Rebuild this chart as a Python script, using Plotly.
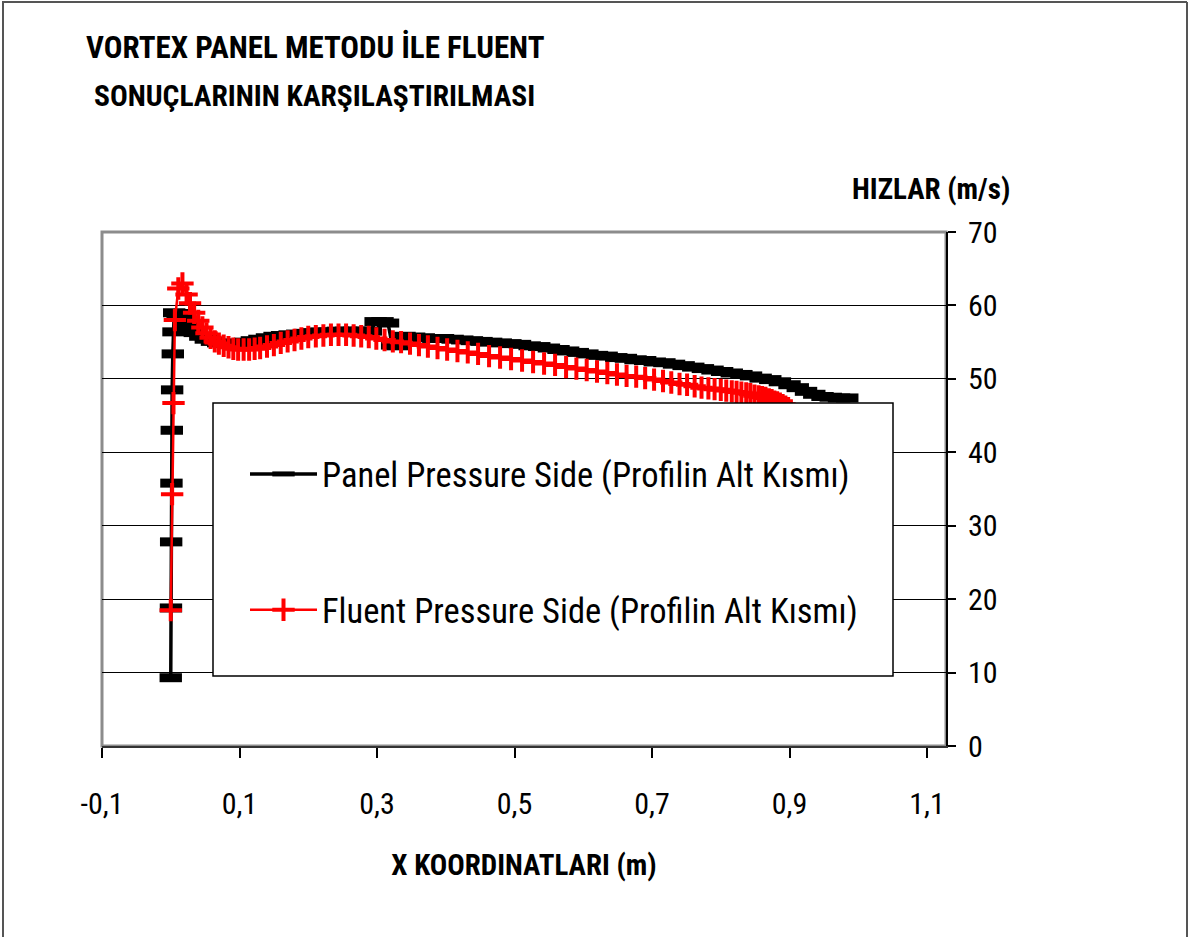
import plotly.graph_objects as go

# ---------------- data ----------------
panel_x = [0.000, 0.0003, 0.0006, 0.001, 0.0015, 0.002, 0.003, 0.004, 0.005,
           0.010, 0.016, 0.022, 0.028, 0.035, 0.043, 0.051, 0.060, 0.069, 0.078,
           0.088, 0.098, 0.108, 0.118, 0.129, 0.140, 0.151, 0.162, 0.173, 0.184,
           0.195, 0.207, 0.219, 0.231, 0.243, 0.255, 0.267, 0.279, 0.291, 0.298,
           0.308, 0.316, 0.322, 0.330, 0.340, 0.354, 0.368, 0.382, 0.396, 0.410,
           0.424, 0.438, 0.452, 0.466, 0.480, 0.494, 0.508, 0.522, 0.536, 0.550,
           0.564, 0.578, 0.592, 0.606, 0.620, 0.634, 0.648, 0.662, 0.676, 0.690,
           0.704, 0.718, 0.732, 0.746, 0.760, 0.774, 0.788, 0.802, 0.816, 0.830,
           0.844, 0.858, 0.872, 0.886, 0.900, 0.912, 0.924, 0.936, 0.948, 0.960,
           0.972, 0.984]
panel_v = [9.3, 18.8, 27.8, 35.8, 43.0, 48.5, 53.4, 56.4, 59.0,
           58.9, 58.5, 57.4, 56.9, 56.3, 55.8, 55.4, 55.1, 54.9, 54.8,
           54.8, 54.9, 55.0, 55.2, 55.4, 55.6, 55.8, 55.9, 56.0, 56.1,
           56.2, 56.3, 56.4, 56.4, 56.5, 56.5, 56.5, 56.5, 56.5, 57.8,
           57.8, 57.6, 54.6, 54.5, 55.8, 55.7, 55.6, 55.5, 55.5, 55.4,
           55.3, 55.2, 55.1, 55.0, 54.9, 54.8, 54.7, 54.5, 54.4, 54.2,
           54.0, 53.8, 53.6, 53.4, 53.2, 53.1, 52.9, 52.8, 52.6, 52.5,
           52.3, 52.2, 52.0, 51.8, 51.6, 51.4, 51.2, 51.0, 50.8, 50.6,
           50.4, 50.1, 49.9, 49.6, 49.2, 48.8, 48.3, 47.9, 47.6, 47.5,
           47.4, 47.4]

fluent_x = [0.000, 0.002, 0.004, 0.006, 0.011, 0.017, 0.023, 0.028, 0.034, 0.040,
            0.046, 0.052, 0.058, 0.064, 0.070, 0.077, 0.084, 0.091, 0.098, 0.106,
            0.114, 0.122, 0.130, 0.140, 0.150, 0.160, 0.170, 0.180, 0.190, 0.200,
            0.211, 0.222, 0.233, 0.244, 0.255, 0.266, 0.277, 0.288, 0.299, 0.311,
            0.323, 0.335, 0.348, 0.361, 0.374, 0.388, 0.402, 0.417, 0.432, 0.447,
            0.463, 0.479, 0.495, 0.511, 0.527, 0.543, 0.559, 0.575, 0.590, 0.605,
            0.620, 0.635, 0.649, 0.663, 0.677, 0.690, 0.703, 0.716, 0.728, 0.740,
            0.751, 0.762, 0.772, 0.782, 0.791, 0.800, 0.808, 0.816, 0.823, 0.830,
            0.837, 0.843, 0.849, 0.855, 0.860, 0.865, 0.870, 0.874, 0.878, 0.882,
            0.886, 0.890, 0.894, 0.898, 0.902, 0.906, 0.910]
fluent_v = [18.5, 34.3, 46.7, 58.0, 62.3, 63.0, 61.5, 60.3, 59.0, 57.9,
            57.0, 56.2, 55.6, 55.1, 54.8, 54.5, 54.3, 54.1, 54.0, 54.0,
            54.0, 54.1, 54.2, 54.4, 54.6, 54.9, 55.1, 55.3, 55.5, 55.7,
            55.8, 55.9, 56.0, 56.0, 56.0, 55.9, 55.8, 55.7, 55.5, 55.3,
            55.1, 55.0, 54.8, 54.6, 54.4, 54.2, 54.0, 53.8, 53.6, 53.4,
            53.1, 52.9, 52.7, 52.5, 52.3, 52.1, 51.9, 51.6, 51.4, 51.2,
            51.0, 50.8, 50.6, 50.4, 50.3, 50.1, 49.9, 49.7, 49.5, 49.3,
            49.2, 49.0, 48.8, 48.7, 48.6, 48.5, 48.4, 48.3, 48.2, 48.1,
            48.0, 47.9, 47.7, 47.6, 47.5, 47.4, 47.2, 47.1, 46.9, 46.8,
            46.6, 46.4, 46.2, 46.0, 45.7, 45.3, 44.8]

x_ticks = [-0.1, 0.1, 0.3, 0.5, 0.7, 0.9, 1.1]
x_tick_text = ["-0,1", "0,1", "0,3", "0,5", "0,7", "0,9", "1,1"]
y_ticks = [0, 10, 20, 30, 40, 50, 60, 70]

series_names = ["Panel Pressure Side (Profilin Alt Kısmı)",
                "Fluent Pressure Side (Profilin Alt Kısmı)"]

NARROW = "Liberation Sans Narrow, Arial Narrow, Roboto Condensed, Liberation Sans, Arial, sans-serif"

# ---------------- layout geometry (pixels) ----------------
W, H = 1189, 937
L, R, T, B = 102, 946, 232, 746


def px(xp):
    return (xp - L) / (R - L)


def py(yp):
    return (B - yp) / (B - T)


fig = go.Figure()
fig.add_trace(go.Scatter(
    x=panel_x, y=panel_v, mode="lines+markers", name=series_names[0],
    legendgroup="a",
    line=dict(color="black", width=3.5),
    marker=dict(symbol="line-ew", size=16, color="black",
                line=dict(color="black", width=9)),
))
fig.add_trace(go.Scatter(
    x=fluent_x, y=fluent_v, mode="lines+markers", name=series_names[1],
    legendgroup="b",
    line=dict(color="#ff0000", width=2.5),
    marker=dict(symbol="cross-thin", size=16, color="#ff0000",
                line=dict(color="#ff0000", width=4)),
))

shapes = [
    # plot frame
    dict(type="rect", xref="paper", yref="paper", x0=0, x1=1, y0=0, y1=1,
         line=dict(color="#8c8c8c", width=3), layer="below"),
    # legend box
    dict(type="rect", xref="paper", yref="paper",
         x0=px(213), x1=px(893), y0=py(676), y1=py(403),
         line=dict(color="black", width=1.5), fillcolor="white", layer="above"),
    # outer border
    dict(type="line", xref="paper", yref="paper", x0=px(2), x1=px(1187),
         y0=py(2), y1=py(2), line=dict(color="#555555", width=2)),
    dict(type="line", xref="paper", yref="paper", x0=px(3), x1=px(3),
         y0=py(2), y1=py(937), line=dict(color="#555555", width=2)),
    dict(type="line", xref="paper", yref="paper", x0=px(1187), x1=px(1187),
         y0=py(2), y1=py(937), line=dict(color="#555555", width=2)),
]

annotations = [
    dict(text="<b>VORTEX PANEL METODU İLE FLUENT</b>", xref="paper", yref="paper",
         x=px(315), y=py(48), xanchor="center", yanchor="middle", showarrow=False,
         font=dict(family=NARROW, size=31, color="black")),
    dict(text="<b>SONUÇLARININ KARŞILAŞTIRILMASI</b>", xref="paper", yref="paper",
         x=px(314), y=py(96), xanchor="center", yanchor="middle", showarrow=False,
         font=dict(family=NARROW, size=29.5, color="black")),
    dict(text="<b>HIZLAR (m/s)</b>", xref="paper", yref="paper",
         x=px(931), y=py(189), xanchor="center", yanchor="middle", showarrow=False,
         font=dict(family=NARROW, size=29, color="black")),
]

fig.update_layout(
    width=W, height=H,
    margin=dict(l=L, r=W - R, t=T, b=H - B, pad=0),
    paper_bgcolor="white", plot_bgcolor="white",
    showlegend=True,
    legend=dict(x=px(245), y=py(445), xanchor="left", yanchor="top",
                bgcolor="rgba(0,0,0,0)", borderwidth=0,
                font=dict(family=NARROW, size=34.5, color="black"),
                tracegroupgap=88, itemwidth=67, traceorder="grouped"),
    shapes=shapes,
    annotations=annotations,
    xaxis=dict(
        range=[-0.1, 1.1276], tickmode="array", tickvals=x_ticks, ticktext=x_tick_text,
        showgrid=False, zeroline=False, showline=True, linecolor="#333333", linewidth=1.5,
        ticks="outside", ticklen=10, tickwidth=1.5, tickcolor="black",
        ticklabelstandoff=20,
        tickfont=dict(family=NARROW, size=30, color="black"),
        title=dict(text="<b>X KOORDINATLARI (m)</b>", standoff=35,
                   font=dict(family=NARROW, size=29, color="black")),
    ),
    yaxis=dict(
        range=[0, 70], tickmode="array", tickvals=y_ticks, side="right",
        showgrid=True, gridcolor="black", gridwidth=1, zeroline=False,
        showline=True, linecolor="black", linewidth=2,
        ticks="outside", ticklen=8, tickwidth=1.5, tickcolor="black",
        ticklabelstandoff=6,
        tickfont=dict(family=NARROW, size=30, color="black"),
    ),
)

fig.write_html("out.html")
